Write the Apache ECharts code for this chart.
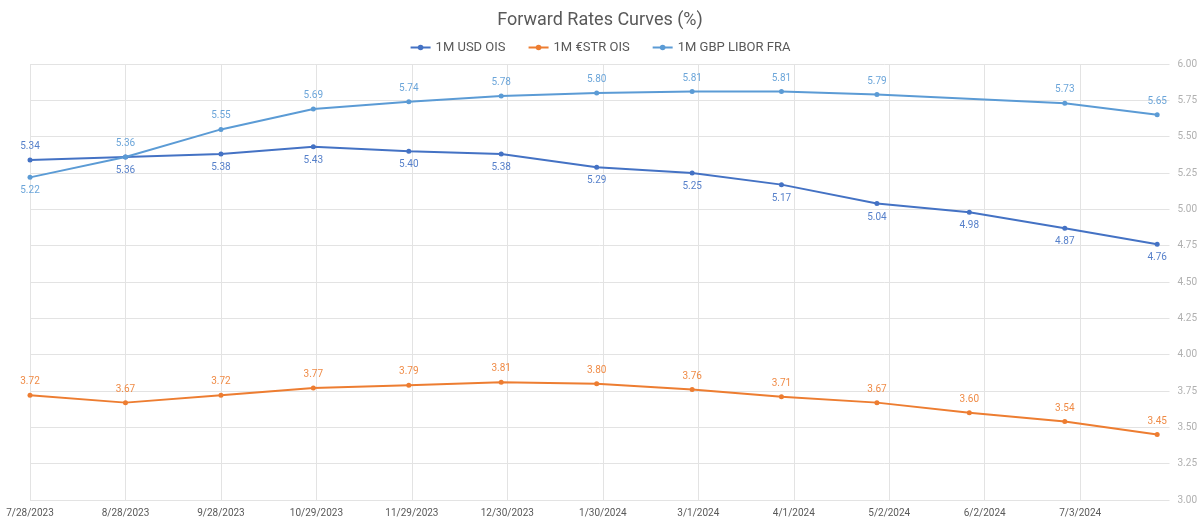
<!DOCTYPE html>
<html>
<head>
<meta charset="utf-8">
<script src="https://cdn.jsdelivr.net/npm/echarts@6/dist/echarts.min.js"></script>
<style>
html,body{margin:0;padding:0;background:#fff;}
#chart{width:1200px;height:523px;}
</style>
</head>
<body>
<div id="chart"></div>
<script>
// Data (observation dates and values)
var dates = ['2023-07-28','2023-08-28','2023-09-28','2023-10-28','2023-11-28','2023-12-28','2024-01-28','2024-02-28','2024-03-28','2024-04-28','2024-05-28','2024-06-28','2024-07-28'];
var usdOis = [5.34, 5.36, 5.38, 5.43, 5.40, 5.38, 5.29, 5.25, 5.17, 5.04, 4.98, 4.87, 4.76];
var estrOis = [3.72, 3.67, 3.72, 3.77, 3.79, 3.81, 3.80, 3.76, 3.71, 3.67, 3.60, 3.54, 3.45];
var gbpFra = [5.22, 5.36, 5.55, 5.69, 5.74, 5.78, 5.80, 5.81, 5.81, 5.79, null, 5.73, 5.65];
var seriesNames = ['1M USD OIS', '1M €STR OIS', '1M GBP LIBOR FRA'];
var axisStart = '2023-07-28';
var axisEnd = '2024-08-01';
var tickDays = 31;
var tickDates = ['2023-07-28','2023-08-28','2023-09-28','2023-10-29','2023-11-29','2023-12-30','2024-01-30','2024-03-01','2024-04-01','2024-05-02','2024-06-02','2024-07-03'];
var yTicks = [3.00, 3.25, 3.50, 3.75, 4.00, 4.25, 4.50, 4.75, 5.00, 5.25, 5.50, 5.75, 6.00];

var DAY = 86400000;
function toUTC(s){ var p = s.split('-'); return Date.UTC(+p[0], +p[1]-1, +p[2]); }
var t0 = toUTC(axisStart);
function dayOffset(s){ return Math.round((toUTC(s) - t0) / DAY); }
function fmtDate(d){ var dt = new Date(t0 + d * DAY); return (dt.getUTCMonth()+1) + '/' + dt.getUTCDate() + '/' + dt.getUTCFullYear(); }
function pairs(vals){ return dates.map(function(d,i){ return [dayOffset(d), vals[i]]; }); }

var colors = ['#4472C4', '#ED7D31', '#5B9BD5'];
var gridColor = '#e3e3e3';
var font = 'Roboto, "DejaVu Sans", sans-serif';

function labelFor(color, restPos){
  return {
    show: true,
    position: restPos,
    color: color,
    opacity: 0.9,
    fontSize: 10,
    fontFamily: font,
    distance: 6,
    formatter: function(p){ return p.value[1] == null ? '' : p.value[1].toFixed(2); }
  };
}

function buildData(vals, firstPos, restPos){
  return pairs(vals).map(function(p, i){
    var item = { value: p };
    if (i === 0 && firstPos !== restPos) {
      item.label = { position: firstPos };
    }
    return item;
  });
}

function lineSeries(idx, vals, firstPos, restPos){
  return {
    name: seriesNames[idx], type: 'line', symbol: 'circle', symbolSize: 5, z: 3,
    connectNulls: true,
    itemStyle: { color: colors[idx] },
    lineStyle: { width: 2, color: colors[idx] },
    label: labelFor(colors[idx], restPos),
    data: buildData(vals, firstPos, restPos)
  };
}

var chart = echarts.init(document.getElementById('chart'));
chart.setOption({
  backgroundColor: '#ffffff',
  animation: false,
  title: {
    text: 'Forward Rates Curves (%)',
    left: 'center',
    top: 6,
    textStyle: { fontFamily: font, fontSize: 18, fontWeight: 'normal', color: '#595959' }
  },
  legend: {
    top: 36,
    left: 'center',
    itemWidth: 20,
    itemHeight: 7,
    itemGap: 22,
    textStyle: { fontFamily: font, fontSize: 13, color: '#595959' },
    data: seriesNames
  },
  grid: { left: 30, right: 30, top: 64, bottom: 23, containLabel: false },
  xAxis: {
    type: 'value',
    min: 0,
    max: dayOffset(axisEnd),
    interval: tickDays,
    axisLine: { show: false },
    axisTick: { show: false },
    splitLine: { show: false },
    axisLabel: {
      color: '#595959', fontSize: 10, fontFamily: font, margin: 8,
      formatter: function(v){ return fmtDate(v); },
      showMaxLabel: false
    }
  },
  yAxis: {
    type: 'value',
    position: 'right',
    min: yTicks[0],
    max: yTicks[yTicks.length - 1],
    interval: 0.25,
    axisLine: { show: false },
    axisTick: { show: false },
    splitLine: { show: true, lineStyle: { color: gridColor, width: 1 } },
    axisLabel: {
      color: '#b0b0b0', fontSize: 10, fontFamily: font, margin: 8,
      formatter: function(v){ return v.toFixed(2); }
    }
  },
  series: [
    {
      name: 'vgrid', type: 'line', data: [], z: 0, silent: true,
      itemStyle: { color: gridColor },
      markLine: {
        silent: true, symbol: ['none', 'none'], animation: false, z: 0,
        label: { show: false },
        lineStyle: { color: gridColor, width: 1, type: 'solid' },
        emphasis: { disabled: true },
        data: tickDates.map(function(d){ return { xAxis: dayOffset(d) }; })
      }
    },
    lineSeries(0, usdOis, 'top', 'bottom'),
    lineSeries(1, estrOis, 'top', 'top'),
    lineSeries(2, gbpFra, 'bottom', 'top')
  ]
});
</script>
</body>
</html>
